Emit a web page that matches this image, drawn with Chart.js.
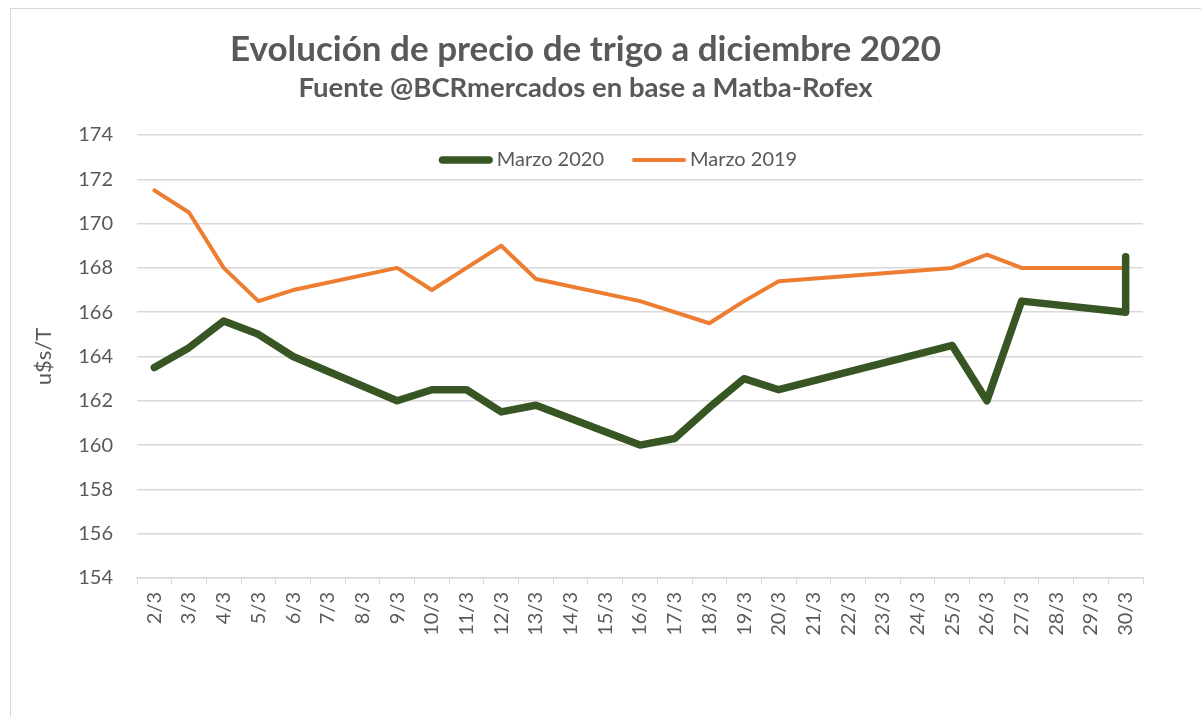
<!DOCTYPE html>
<html>
<head>
<meta charset="utf-8">
<script src="https://cdn.jsdelivr.net/npm/chart.js@4.4.1/dist/chart.umd.min.js"></script>
<style>
    html, body { margin: 0; padding: 0; background: #fff; }
    #frame { position: absolute; left: 10px; top: 8px; width: 1200px; height: 720px; border: 1px solid #d9d9d9; }
    #wrap { position: absolute; left: 0; top: 0; width: 1201px; height: 717px; }
</style>
</head>
<body>
<div id="frame"></div>
<div id="wrap"><canvas id="chart"></canvas></div>
<script>
// Days of March (weekends / holidays have no quote -> null)
const days = ['2/3', '3/3', '4/3', '5/3', '6/3', '7/3', '8/3', '9/3', '10/3', '11/3',
              '12/3', '13/3', '14/3', '15/3', '16/3', '17/3', '18/3', '19/3', '20/3', '21/3',
              '22/3', '23/3', '24/3', '25/3', '26/3', '27/3', '28/3', '29/3', '30/3'];

const marzo2020 = [163.5, 164.4, 165.6, 165.0, 164.0, null, null, 162.0, 162.5, 162.5,
                   161.5, 161.8, null, null, 160.0, 160.3, 161.7, 163.0, 162.5, null,
                   null, null, null, 164.5, 162.0, 166.5, null, null, 166.0];
// last quote of the month, drawn on the same day as 30/3
const marzo2020Cierre = 168.5;

const marzo2019 = [171.5, 170.5, 168.0, 166.5, 167.0, null, null, 168.0, 167.0, 168.0,
                   169.0, 167.5, null, null, 166.5, 166.0, 165.5, 166.5, 167.4, null,
                   null, null, null, 168.0, 168.6, 168.0, null, null, 168.0];

const yMin = 154;
const yMax = 174;
const yStep = 2;

const greyText = '#595959';
const gridColor = '#d9d9d9';
const fontFamily = 'Lato';

const green2020 = days.map((d, i) => ({ x: d, y: marzo2020[i] }))
    .concat([{ x: days[days.length - 1], y: marzo2020Cierre }]);
const orange2019 = days.map((d, i) => ({ x: d, y: marzo2019[i] }));

// Excel style legend, drawn inside the plot area under the top gridline
const inlineLegend = {
    id: 'inlineLegend',
    afterDraw(chart) {
        const c = chart.ctx;
        const area = chart.chartArea;
        const sample = 54, gap = 4, spacing = 28;
        c.save();
        c.font = '20px ' + fontFamily;
        c.textBaseline = 'middle';
        const items = chart.data.datasets.map(ds => ({
            label: ds.label,
            color: ds.borderColor,
            width: ds.borderWidth,
            textWidth: c.measureText(ds.label).width
        }));
        const total = items.reduce((s, it) => s + sample + gap + it.textWidth, 0) + spacing * (items.length - 1);
        let x = (area.left + area.right) / 2 - 22 - total / 2;
        const y = area.top + 25;
        items.forEach(it => {
            c.beginPath();
            c.lineCap = 'round';
            c.lineWidth = it.width;
            c.strokeStyle = it.color;
            c.moveTo(x + it.width / 2, y);
            c.lineTo(x + sample - it.width / 2, y);
            c.stroke();
            c.fillStyle = greyText;
            c.fillText(it.label, x + sample + gap, y);
            x += sample + gap + it.textWidth + spacing;
        });
        c.restore();
    }
};

const ctx = document.getElementById('chart');

new Chart(ctx, {
    type: 'line',
    data: {
        labels: days,
        datasets: [{
            label: 'Marzo 2020',
            data: green2020,
            borderColor: '#375623',
            backgroundColor: '#375623',
            borderWidth: 7.5,
            borderCapStyle: 'round',
            borderJoinStyle: 'round',
            pointRadius: 0,
            tension: 0,
            spanGaps: true
        }, {
            label: 'Marzo 2019',
            data: orange2019,
            borderColor: '#ed7d31',
            backgroundColor: '#ed7d31',
            borderWidth: 4,
            borderCapStyle: 'round',
            borderJoinStyle: 'round',
            pointRadius: 0,
            tension: 0,
            spanGaps: true
        }]
    },
    options: {
        responsive: true,
        maintainAspectRatio: false,
        animation: false,
        layout: {
            padding: { left: 28, right: 58, top: 0, bottom: 0 }
        },
        plugins: {
            title: {
                display: true,
                text: 'Evolución de precio de trigo a diciembre 2020',
                color: greyText,
                font: { family: fontFamily, size: 35, weight: 'bold' },
                padding: { top: 29, bottom: 0 }
            },
            subtitle: {
                display: true,
                text: 'Fuente @BCRmercados en base a Matba-Rofex',
                color: greyText,
                font: { family: fontFamily, size: 27.5, weight: 'bold' },
                padding: { top: 1, bottom: 30 }
            },
            legend: { display: false },
            tooltip: { enabled: false }
        },
        scales: {
            x: {
                type: 'category',
                offset: true,
                grid: {
                    offset: true,
                    drawOnChartArea: false,
                    drawTicks: true,
                    tickLength: 6,
                    color: gridColor
                },
                border: { display: true, color: gridColor, width: 1.5 },
                ticks: {
                    color: greyText,
                    font: { family: fontFamily, size: 20 },
                    minRotation: 90,
                    maxRotation: 90,
                    autoSkip: false,
                    padding: 8
                },
                afterFit: (scale) => { scale.height = 139; }
            },
            y: {
                min: yMin,
                max: yMax,
                grid: {
                    color: gridColor,
                    lineWidth: 1.5,
                    drawTicks: false,
                    tickLength: 0
                },
                border: { display: false },
                ticks: {
                    stepSize: yStep,
                    color: greyText,
                    font: { family: fontFamily, size: 20 },
                    padding: 24
                },
                title: {
                    display: true,
                    text: 'u$s/T',
                    color: greyText,
                    font: { family: fontFamily, size: 22 },
                    padding: { top: 3, bottom: 0 }
                },
                afterFit: (scale) => { scale.width = 109; }
            }
        }
    },
    plugins: [inlineLegend]
});
</script>
</body>
</html>
